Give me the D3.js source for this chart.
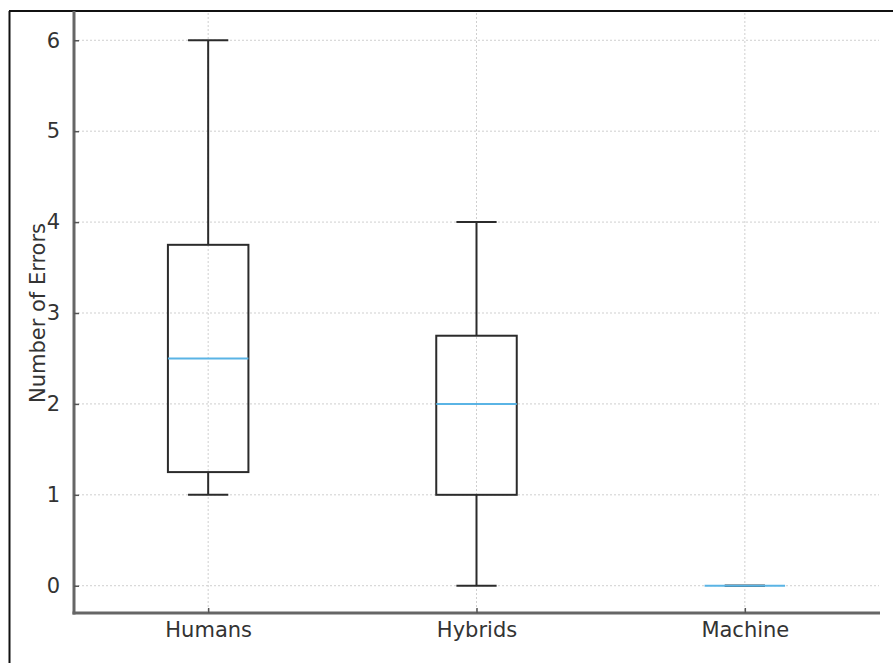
<!DOCTYPE html>
<html>
<head>
<meta charset="utf-8">
<script src="https://cdn.jsdelivr.net/npm/d3@7/dist/d3.min.js"></script>
<style>
  html, body { margin: 0; padding: 0; background: #fff; }
  svg { display: block; }
</style>
</head>
<body>
<svg id="chart" width="893" height="663"></svg>
<script>
// Error counts summarised per group (five-number summary)
const categories = ["Humans", "Hybrids", "Machine"];
const whiskerLow  = [1, 0, 0];
const quartile1   = [1.25, 1, 0];
const medians     = [2.5, 2, 0];
const quartile3   = [3.75, 2.75, 0];
const whiskerHigh = [6, 4, 0];
const yTicks = [0, 1, 2, 3, 4, 5, 6];
const yLabel = "Number of Errors";

const svg = d3.select("#chart");
const W = 893, H = 663;
const mLeft = 74, mRight = 879, mTop = 13, mBottom = 613;
const font = "'DejaVu Sans', sans-serif";
const fontSize = "21px";

const boxes = categories.map((c, i) => ({
  name: c, pos: i + 1,
  lo: whiskerLow[i], q1: quartile1[i], med: medians[i], q3: quartile3[i], hi: whiskerHigh[i]
}));

// Linear category axis, positions 1..n with half-unit padding
const x = d3.scaleLinear().domain([0.5, categories.length + 0.5]).range([mLeft, mRight]);
const y = d3.scaleLinear().domain([-0.3, 6.3]).range([mBottom, mTop]);

// outer frame (left and top edges)
svg.append("line").attr("x1", 9.5).attr("x2", 9.5).attr("y1", 11).attr("y2", H)
  .attr("stroke", "#111").attr("stroke-width", 2);
svg.append("line").attr("x1", 9).attr("x2", W).attr("y1", 11).attr("y2", 11)
  .attr("stroke", "#111").attr("stroke-width", 2);

const plot = svg.append("g");

// grid lines
plot.append("g").selectAll("line").data(yTicks).join("line")
  .attr("x1", mLeft).attr("x2", mRight)
  .attr("y1", d => y(d)).attr("y2", d => y(d))
  .attr("stroke", "#cfcfcf").attr("stroke-width", 1).attr("stroke-dasharray", "2,2");
plot.append("g").selectAll("line").data(boxes).join("line")
  .attr("x1", d => x(d.pos)).attr("x2", d => x(d.pos))
  .attr("y1", mTop).attr("y2", mBottom)
  .attr("stroke", "#cfcfcf").attr("stroke-width", 1).attr("stroke-dasharray", "2,2");

// boxes
const boxW = 0.3, capW = 0.15;
const g = plot.append("g").selectAll("g").data(boxes).join("g");
const stroke = "#2b2b2b";
g.append("line") // lower whisker
  .attr("x1", d => x(d.pos)).attr("x2", d => x(d.pos))
  .attr("y1", d => y(d.lo)).attr("y2", d => y(d.q1))
  .attr("stroke", stroke).attr("stroke-width", 2);
g.append("line") // upper whisker
  .attr("x1", d => x(d.pos)).attr("x2", d => x(d.pos))
  .attr("y1", d => y(d.q3)).attr("y2", d => y(d.hi))
  .attr("stroke", stroke).attr("stroke-width", 2);
g.append("line") // lower cap
  .attr("x1", d => x(d.pos - capW / 2)).attr("x2", d => x(d.pos + capW / 2))
  .attr("y1", d => y(d.lo)).attr("y2", d => y(d.lo))
  .attr("stroke", stroke).attr("stroke-width", 2);
g.append("line") // upper cap
  .attr("x1", d => x(d.pos - capW / 2)).attr("x2", d => x(d.pos + capW / 2))
  .attr("y1", d => y(d.hi)).attr("y2", d => y(d.hi))
  .attr("stroke", stroke).attr("stroke-width", 2);
g.append("rect")
  .attr("x", d => x(d.pos - boxW / 2)).attr("width", d => x(d.pos + boxW / 2) - x(d.pos - boxW / 2))
  .attr("y", d => y(d.q3)).attr("height", d => y(d.q1) - y(d.q3))
  .attr("fill", "none").attr("stroke", stroke).attr("stroke-width", 2)
  .attr("visibility", d => d.q3 > d.q1 ? "visible" : "hidden");
g.append("line") // median
  .attr("x1", d => x(d.pos - boxW / 2)).attr("x2", d => x(d.pos + boxW / 2))
  .attr("y1", d => y(d.med)).attr("y2", d => y(d.med))
  .attr("stroke", "#5ab4e5").attr("stroke-width", 2);

// axes
const yAxis = d3.axisLeft(y).tickValues(yTicks).tickFormat(d3.format("d"))
  .tickSizeInner(-5).tickSizeOuter(0).tickPadding(14);
const ya = svg.append("g").attr("transform", `translate(${mLeft},0)`).call(yAxis);
const xAxis = d3.axisBottom(x).tickValues(boxes.map(d => d.pos))
  .tickFormat((d, i) => categories[i]).tickSizeInner(-5).tickSizeOuter(0).tickPadding(9);
const xa = svg.append("g").attr("transform", `translate(0,${mBottom})`).call(xAxis);

[ya, xa].forEach(a => {
  a.select(".domain").attr("stroke", "#666").attr("stroke-width", 3);
  a.selectAll(".tick line").attr("stroke", "#555").attr("stroke-width", 1.5);
  a.selectAll(".tick text").attr("fill", "#333").style("font-family", font).style("font-size", fontSize);
});
ya.select(".domain").attr("d", `M0,${mTop - 2}V${mBottom + 1.5}`);
xa.select(".domain").attr("d", `M${mLeft - 1.5},0H${mRight + 1}`);

svg.append("text")
  .attr("transform", `translate(38,${(mTop + mBottom) / 2}) rotate(-90)`)
  .attr("text-anchor", "middle").attr("dominant-baseline", "central")
  .attr("fill", "#333").style("font-family", font).style("font-size", fontSize)
  .text(yLabel);
</script>
</body>
</html>
